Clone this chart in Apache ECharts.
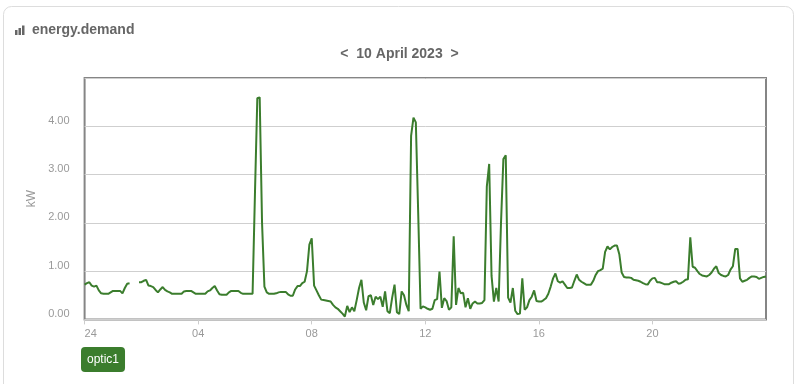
<!DOCTYPE html>
<html>
<head>
<meta charset="utf-8">
<script src="https://cdn.jsdelivr.net/npm/echarts@6/dist/echarts.min.js"></script>
<style>
html,body{margin:0;padding:0;background:#fff;}
#chart{width:799px;height:384px;}
</style>
</head>
<body>
<div id="chart"></div>
<script>
// ---- data ----
const chartTitle = 'energy.demand';
const dateLabel = '<  10 April 2023  >';
const seriesName = 'optic1';
const yAxisName = 'kW';
const stepMinutes = 5; // sampling step of the readings, starting at 00:00
const xTickHours = [0, 4, 8, 12, 16, 20];
const xTickLabels = ['24', '04', '08', '12', '16', '20'];
const kw = [
  0.72,0.75,0.77,0.70,0.68,0.70,0.60,0.54,0.53,0.53,0.53,0.56,0.59,0.59,0.59,0.59,0.54,0.65,0.74,0.75,
  null,null,null,
  0.77,0.77,0.80,0.82,0.70,0.69,0.67,0.61,0.56,0.62,0.67,0.61,0.58,0.56,0.53,0.53,0.53,
  0.53,0.53,0.58,0.59,0.59,0.59,0.56,0.53,0.53,0.53,0.53,0.53,0.58,0.60,0.65,0.69,0.60,0.52,0.51,0.51,
  0.51,0.56,0.59,0.59,0.59,0.59,0.55,0.53,0.53,0.53,0.53,0.53,2.6,4.58,4.60,2.0,0.68,0.56,0.53,0.53,
  0.53,0.54,0.56,0.57,0.57,0.57,0.52,0.49,0.49,0.62,0.69,0.69,0.75,0.78,1.0,1.55,1.68,0.70,0.60,0.50,
  0.41,0.40,0.39,0.38,0.37,0.30,0.25,0.22,0.17,0.12,0.06,0.28,0.15,0.25,0.17,0.40,0.65,0.82,0.35,0.19,
  0.48,0.50,0.30,0.47,0.42,0.47,0.26,0.58,0.17,0.13,0.45,0.72,0.15,0.11,0.58,0.50,0.30,0.17,3.80,4.18,
  4.08,2.2,0.22,0.27,0.25,0.22,0.20,0.22,0.40,0.42,0.99,0.24,0.44,0.38,0.20,0.25,1.72,0.30,0.65,0.54,
  0.55,0.25,0.44,0.22,0.33,0.37,0.33,0.33,0.34,0.40,2.75,3.22,0.9,0.37,0.65,0.37,2.0,3.32,3.40,0.45,
  0.35,0.65,0.18,0.11,0.12,0.85,0.20,0.25,0.40,0.47,0.60,0.38,0.37,0.37,0.40,0.44,0.53,0.68,0.85,0.95,
  0.79,0.76,0.79,0.72,0.65,0.65,0.66,0.80,0.93,0.82,0.78,0.75,0.72,0.72,0.72,0.80,0.92,1.00,1.02,1.05,
  1.40,1.51,1.45,1.50,1.53,1.53,1.35,0.97,0.88,0.87,0.87,0.86,0.82,0.81,0.80,0.78,0.75,0.73,0.72,0.80,
  0.85,0.86,0.77,0.77,0.75,0.73,0.73,0.73,0.76,0.78,0.79,0.74,0.75,0.78,0.82,0.83,1.70,1.09,1.07,1.00,
  0.94,0.91,0.90,0.89,0.92,0.97,1.05,1.10,0.96,0.92,0.90,0.89,0.92,1.03,1.10,1.46,1.46,0.85,0.78,0.80,
  0.82,0.86,0.89,0.89,0.88,0.84,0.86,0.88,0.89
];

const GREEN = '#3b7d2d';
const FONT = 'Liberation Sans, Arial, sans-serif';
const chart = echarts.init(document.getElementById('chart'), null, {renderer: 'canvas'});
const points = kw.map((v, i) => [i * stepMinutes / 60, v]);

chart.setOption({
  animation: false,
  backgroundColor: '#fff',
  textStyle: {fontFamily: FONT},
  title: [
    {text: chartTitle, left: 32, top: 23, padding: 0,
     textStyle: {fontSize: 14, fontWeight: 'bold', color: '#666', fontFamily: FONT}},
    {text: dateLabel, left: 'center', top: 47, padding: 0,
     textStyle: {fontSize: 14, fontWeight: 'bold', color: '#666', fontFamily: FONT}}
  ],
  graphic: [
    {type: 'rect', silent: true, z: -10,
     shape: {x: 3.5, y: 6.5, width: 790, height: 400, r: 8},
     style: {fill: 'none', stroke: '#dddddd', lineWidth: 1}},
    {type: 'rect', shape: {x: 15, y: 30, width: 2.5, height: 5}, style: {fill: '#666'}},
    {type: 'rect', shape: {x: 18.5, y: 28, width: 2.5, height: 7}, style: {fill: '#666'}},
    {type: 'rect', shape: {x: 22, y: 25.5, width: 2.5, height: 9.5}, style: {fill: '#666'}}
  ],
  legend: {
    left: 76, top: 347, padding: 0,
    icon: 'none', itemWidth: 0, itemHeight: 0,
    data: [seriesName],
    textStyle: {color: '#fff', fontSize: 12, backgroundColor: GREEN, borderRadius: 4,
                padding: [7, 6, 6, 6], fontFamily: FONT},
    selectedMode: false
  },
  grid: {left: 84.6, right: 33, top: 78, bottom: 64.6, show: true,
         borderColor: '#858585', borderWidth: 2, backgroundColor: 'transparent'},
  xAxis: {
    type: 'value', min: 0, max: 24, interval: 4,
    axisLine: {show: false},
    axisTick: {show: true, length: 5, lineStyle: {color: '#ccc'}},
    splitLine: {show: false},
    axisLabel: {
      color: '#999', fontSize: 11, margin: 9,
      showMaxLabel: false, alignMinLabel: 'left',
      formatter: v => { const k = xTickHours.indexOf(v); return k >= 0 ? xTickLabels[k] : ''; }
    }
  },
  yAxis: {
    type: 'value', min: 0, max: 5, interval: 1,
    name: yAxisName, nameLocation: 'middle', nameGap: 46,
    nameTextStyle: {color: '#999', fontSize: 12},
    axisLine: {show: false}, axisTick: {show: false},
    splitLine: {lineStyle: {color: '#cfcfcf', width: 1}},
    axisLabel: {color: '#999', fontSize: 11, margin: 15, verticalAlign: 'bottom',
                showMaxLabel: false, formatter: v => v.toFixed(2)}
  },
  series: [{
    name: seriesName, type: 'line', data: points,
    showSymbol: false, connectNulls: false,
    lineStyle: {color: GREEN, width: 2},
    itemStyle: {color: GREEN}
  }]
});
</script>
</body>
</html>
